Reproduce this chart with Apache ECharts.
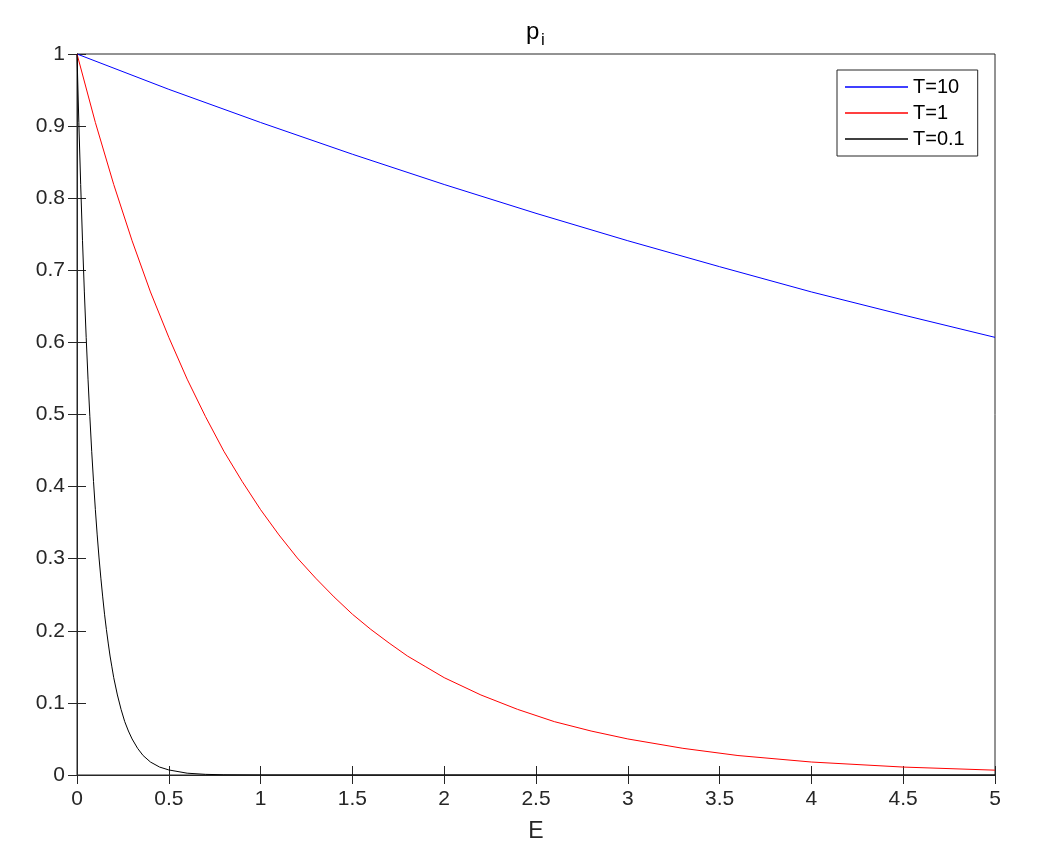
<!DOCTYPE html>
<html>
<head>
<meta charset="utf-8">
<script src="https://cdn.jsdelivr.net/npm/echarts@6/dist/echarts.min.js"></script>
<style>html,body{margin:0;padding:0;background:#fff;}#c{width:1060px;height:858px;}</style>
</head>
<body>
<div id="c"></div>
<script>
// Values
const seriesNames = ['T=10', 'T=1', 'T=0.1'];
const colors = ['#0000ff', '#ff0000', '#000000'];

const eBlue = [0, 0.5, 1, 1.5, 2, 2.5, 3, 3.5, 4, 4.5, 5];
const pBlue = [1, 0.951, 0.905, 0.861, 0.819, 0.779, 0.741, 0.705, 0.670, 0.638, 0.607];

const eRed = [0, 0.1, 0.2, 0.3, 0.4, 0.5, 0.6, 0.7, 0.8, 0.9, 1.0, 1.1, 1.2, 1.3, 1.4, 1.5, 1.6, 1.7, 1.8, 1.9, 2.0, 2.2, 2.4, 2.6, 2.8, 3.0, 3.3, 3.6, 4.0, 4.5, 5.0];
const pRed = [1, 0.905, 0.819, 0.741, 0.670, 0.607, 0.549, 0.497, 0.449, 0.407, 0.368, 0.333, 0.301, 0.273, 0.247, 0.223, 0.202, 0.183, 0.165, 0.150, 0.135, 0.111, 0.091, 0.074, 0.061, 0.050, 0.037, 0.027, 0.018, 0.011, 0.0067];

const eBlack = [0, 0.01, 0.02, 0.03, 0.04, 0.05, 0.06, 0.07, 0.08, 0.09, 0.10, 0.11, 0.12, 0.13, 0.14, 0.15, 0.16, 0.17, 0.18, 0.19, 0.20, 0.22, 0.24, 0.26, 0.28, 0.30, 0.33, 0.36, 0.40, 0.45, 0.50, 0.6, 0.7, 0.8, 1.0, 5.0];
const pBlack = [1, 0.905, 0.819, 0.741, 0.670, 0.607, 0.549, 0.497, 0.449, 0.407, 0.368, 0.333, 0.301, 0.273, 0.247, 0.223, 0.202, 0.183, 0.165, 0.150, 0.135, 0.111, 0.091, 0.074, 0.061, 0.050, 0.037, 0.027, 0.018, 0.011, 0.007, 0.0025, 0.0009, 0.0003, 0.00005, 0];

const xTicks = {min: 0, max: 5, interval: 0.5};
const yTicks = {min: 0, max: 1, interval: 0.1};

function pairs(xs, ys) { return xs.map((x, i) => [x, ys[i]]); }

const axisCol = '#262626';
const font = 'Liberation Sans, Arial, Helvetica, sans-serif';

const chart = echarts.init(document.getElementById('c'));
const tickCommon = {show: true, inside: true, length: 9, lineStyle: {color: axisCol, width: 1}};
chart.setOption({
  animation: false,
  backgroundColor: '#fff',
  graphic: [
    {type: 'text', left: 526, top: 20, style: {text: 'p', fontSize: 24, fontFamily: font, fill: '#000'}},
    {type: 'text', left: 541, top: 32, style: {text: 'i', fontSize: 17, fontFamily: font, fill: '#000'}}
  ],
  grid: {left: 77, right: 65, top: 54, bottom: 83, show: true, borderColor: axisCol, borderWidth: 1},
  legend: {
    data: seriesNames,
    orient: 'vertical',
    left: 837,
    top: 70,
    padding: [7, 13, 7, 8],
    itemGap: 6,
    itemWidth: 63,
    itemHeight: 20,
    icon: 'path://M0,0 L63,0 L63,1.3 L0,1.3 Z',
    borderColor: axisCol,
    borderWidth: 1,
    borderRadius: 0,
    backgroundColor: '#fff',
    textStyle: {fontSize: 20, fontFamily: font, color: '#000', lineHeight: 20}
  },
  xAxis: [{
    type: 'value', min: xTicks.min, max: xTicks.max, interval: xTicks.interval,
    name: 'E', nameLocation: 'middle', nameGap: 45,
    nameTextStyle: {fontSize: 23, fontFamily: font, color: axisCol},
    axisLine: {show: true, lineStyle: {color: axisCol}},
    axisTick: tickCommon,
    axisLabel: {fontSize: 21, fontFamily: font, color: axisCol, margin: 14},
    splitLine: {show: false}
  }, {
    type: 'value', position: 'top', min: xTicks.min, max: xTicks.max, interval: xTicks.interval,
    axisLine: {show: true, lineStyle: {color: axisCol}},
    axisTick: tickCommon, axisLabel: {show: false}, splitLine: {show: false}
  }],
  yAxis: [{
    type: 'value', min: yTicks.min, max: yTicks.max, interval: yTicks.interval,
    axisLine: {show: true, lineStyle: {color: axisCol}},
    axisTick: tickCommon,
    axisLabel: {fontSize: 21, fontFamily: font, color: axisCol, margin: 12},
    splitLine: {show: false}
  }, {
    type: 'value', position: 'right', min: yTicks.min, max: yTicks.max, interval: yTicks.interval,
    axisLine: {show: true, lineStyle: {color: axisCol}},
    axisTick: tickCommon, axisLabel: {show: false}, splitLine: {show: false}
  }],
  series: [
    {name: seriesNames[0], type: 'line', data: pairs(eBlue, pBlue), symbol: 'none', color: colors[0], lineStyle: {width: 1, color: colors[0]}},
    {name: seriesNames[1], type: 'line', data: pairs(eRed, pRed), symbol: 'none', color: colors[1], lineStyle: {width: 1, color: colors[1]}},
    {name: seriesNames[2], type: 'line', data: pairs(eBlack, pBlack), symbol: 'none', color: colors[2], lineStyle: {width: 1, color: colors[2]}}
  ]
});
</script>
</body>
</html>
